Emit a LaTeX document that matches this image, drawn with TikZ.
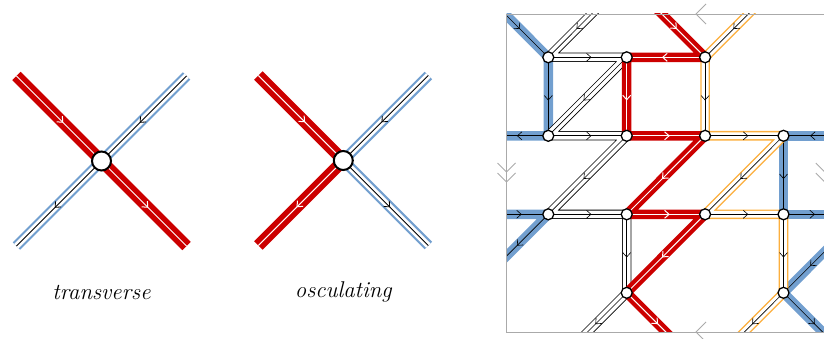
\documentclass[tikz,border=0pt]{standalone}
\usepackage{fontspec}
\usetikzlibrary{arrows.meta,decorations.markings}
\definecolor{rred}{RGB}{204,0,0}
\definecolor{rblue}{RGB}{114,159,207}
\definecolor{rorange}{RGB}{252,175,62}
\definecolor{rgray}{RGB}{170,170,170}
\newcommand\rseg[4]{\draw[#1,arrowat=#4] (#2) -- (#3);}
\begin{document}
\begin{tikzpicture}[x=1pt,y=-1pt,
  arrowat/.style={postaction={decorate},decoration={markings,mark=at position #1 with {\arrow{Straight Barb[length=4.5pt,width=8pt]}}}},
  vtx/.style={circle,draw=black,fill=white,line width=1.3pt,inner sep=0pt,minimum size=11pt},
  bigvtx/.style={circle,draw=black,fill=white,line width=2pt,inner sep=0pt,minimum size=19pt},
  blueband/.style={rblue,line width=9.5pt,line join=round},
  redband/.style={rred,line width=9.5pt,line join=round},
  bwband/.style={black,line width=0.8pt,double=white,double distance=7.6pt,line join=round},
  orband/.style={rorange,line width=1.4pt,double=white,double distance=6.8pt,line join=round},
  lblueband/.style={rblue,line width=2.2pt,double=white,double distance=6.2pt,line join=round},
  bctr/.style={black,line width=0.6pt},
  lbctr/.style={black,line width=0.8pt},
  wctr/.style={white,line width=1pt},
  framestyle/.style={rgray,line width=0.8pt},
  lbl/.style={font=\fontsize{22.8}{27}\selectfont\itshape},
]
\clip (0,0) rectangle (824,339);
% ---------------- left panel: transverse ----------------
\coordinate (ctA) at (101.5,161);
\coordinate (rA1) at (16.5,76);  \coordinate (rA2) at (186.5,246);
\coordinate (bA1) at (186.5,76); \coordinate (bA2) at (16.5,246);
\draw[lblueband] (bA1) -- (bA2);
\rseg{lbctr}{bA1}{ctA}{0.55}
\rseg{lbctr}{ctA}{bA2}{0.55}
\draw[rred,line width=12pt] (rA1) -- (rA2);
\rseg{wctr}{rA1}{ctA}{0.55}
\rseg{wctr}{ctA}{rA2}{0.55}
\node[bigvtx] (vA) at (ctA) {};
\node[lbl] (labA) at (101.5,292) {transverse};
% ---------------- left panel: osculating ----------------
\coordinate (ctB) at (343.3,160.5);
\coordinate (rB1) at (258.3,75.5);  \coordinate (rB2) at (258.3,245.5);
\coordinate (bB1) at (428.3,75.5); \coordinate (bB2) at (428.3,245.5);
\draw[lblueband] (bB1) -- (ctB) -- (bB2);
\rseg{lbctr}{bB1}{ctB}{0.55}
\rseg{lbctr}{ctB}{bB2}{0.55}
\draw[rred,line width=12pt,line join=round] (rB1) -- (ctB) -- (rB2);
\rseg{wctr}{rB1}{ctB}{0.55}
\rseg{wctr}{ctB}{rB2}{0.55}
\node[bigvtx] (vB) at (ctB) {};
\node[lbl] (labB) at (343.3,292) {osculating};
% ---------------- right panel ----------------
\foreach \i in {0,...,3}{\foreach \j in {0,...,3}{
  \coordinate (p\i\j) at ({548.3+78.4*\i},{57.3+78.5*\j});}}
\coordinate (pmm) at (469.9,-21.2);
\coordinate (pm1) at (469.9,135.8);
\coordinate (pm2) at (469.9,214.3);
\coordinate (pm3) at (469.9,292.8);
\coordinate (p1m) at (626.7,-21.2);
\coordinate (p3m) at (783.5,-21.2);
\coordinate (p41) at (861.9,135.8);
\coordinate (p42) at (861.9,214.3);
\coordinate (p44) at (861.9,371.3);
\coordinate (p04) at (548.3,371.3);
\coordinate (p24) at (705.1,371.3);
\begin{scope}
\clip (506.5,14) rectangle (824.8,332);
% blue strand
\draw[blueband] (pmm) -- (p00) -- (p01) -- (pm1);
\draw[blueband] (p41) -- (p31) -- (p32) -- (p42);
\draw[blueband] (pm2) -- (p02) -- (pm3);
\draw[blueband] (p42) -- (p33) -- (p44);
\rseg{bctr}{pmm}{p00}{0.64}
\rseg{bctr}{p00}{p01}{0.55}
\rseg{bctr}{p01}{pm1}{0.4}
\rseg{bctr}{p41}{p31}{0.66}
\rseg{bctr}{p31}{p32}{0.55}
\rseg{bctr}{p32}{p42}{0.4}
\rseg{bctr}{pm2}{p02}{0.66}
\rseg{bctr}{p02}{pm3}{0.4}
\rseg{bctr}{p42}{p33}{0.66}
\rseg{bctr}{p33}{p44}{0.4}
% black/white strand
\draw[bwband] (p1m) -- (p00) -- (p10) -- (p01) -- (p11) -- (p02) -- (p12) -- (p13) -- (p04);
\rseg{bctr}{p1m}{p00}{0.64}
\rseg{bctr}{p00}{p10}{0.55}
\rseg{bctr}{p10}{p01}{0.55}
\rseg{bctr}{p01}{p11}{0.55}
\rseg{bctr}{p11}{p02}{0.55}
\rseg{bctr}{p02}{p12}{0.55}
\rseg{bctr}{p12}{p13}{0.55}
\rseg{bctr}{p13}{p04}{0.4}
% orange strand
\draw[orband] (p3m) -- (p20) -- (p21) -- (p31) -- (p22) -- (p32) -- (p33) -- (p24);
\rseg{bctr}{p3m}{p20}{0.64}
\rseg{bctr}{p20}{p21}{0.55}
\rseg{bctr}{p21}{p31}{0.55}
\rseg{bctr}{p31}{p22}{0.55}
\rseg{bctr}{p22}{p32}{0.55}
\rseg{bctr}{p32}{p33}{0.55}
\rseg{bctr}{p33}{p24}{0.4}
% red strand
\draw[redband] (p1m) -- (p20) -- (p10) -- (p11) -- (p21) -- (p12) -- (p22) -- (p13) -- (p24);
\rseg{wctr}{p1m}{p20}{0.64}
\rseg{wctr}{p20}{p10}{0.55}
\rseg{wctr}{p10}{p11}{0.55}
\rseg{wctr}{p11}{p21}{0.55}
\rseg{wctr}{p21}{p12}{0.55}
\rseg{wctr}{p12}{p22}{0.55}
\rseg{wctr}{p22}{p13}{0.55}
\rseg{wctr}{p13}{p24}{0.4}
\end{scope}
% frame with identification marks
\draw[framestyle] (506.5,14) rectangle (824.8,332);
\draw[framestyle] (706,4) -- (696,14) -- (706,24);
\draw[framestyle] (706,322) -- (696,332) -- (706,342);
\draw[framestyle] (497.5,163) -- (506.5,172) -- (515.5,163);
\draw[framestyle] (497.5,173) -- (506.5,182) -- (515.5,173);
\draw[framestyle] (815.8,163) -- (824.8,172) -- (833.8,163);
\draw[framestyle] (815.8,173) -- (824.8,182) -- (833.8,173);
% vertices
\foreach \v in {00,10,20,01,11,21,31,02,12,22,32,13,33}{
  \node[vtx] (v\v) at (p\v) {};}
\end{tikzpicture}
\end{document}
